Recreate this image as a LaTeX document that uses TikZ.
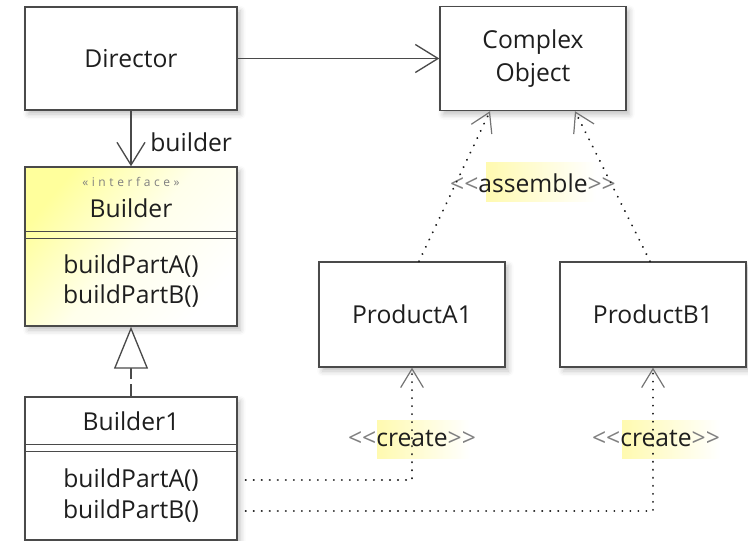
\documentclass[tikz,border=0pt]{standalone}
\usepackage{fontspec}
\setmainfont{Open Sans}[Ligatures=NoCommon]
\usepackage{graphicx}
\usetikzlibrary{arrows.meta,calc,backgrounds,shadows.blur}
\definecolor{ink}{HTML}{1E1E1E}
\definecolor{edgec}{HTML}{4A4A4A}
\definecolor{hly}{HTML}{FFFAB0}
\definecolor{ylw}{HTML}{FFFF9C}
\newcommand{\lt}{\textcolor{black!50}{<\kern0pt<}}
\newcommand{\gt}{\textcolor{black!50}{>\kern0pt>}}
\begin{document}
\begin{tikzpicture}[x=0.75pt,y=-0.75pt,
  font=\fontsize{18.5}{24}\selectfont, text=ink,
  box/.style={draw=edgec, line width=1.1pt, fill=white, rectangle, inner sep=0pt,
    blur shadow={shadow xshift=2.5pt, shadow yshift=-3pt, shadow opacity=25, shadow blur radius=4pt}},
  txt/.style={inner sep=0pt, align=center},
  assoc/.style={draw=edgec, line width=1.1pt, -{Straight Barb[length=17pt,width=21pt,line width=1pt]}},
  dep/.style={draw=black!90, line width=1.6pt, line cap=round, dash pattern=on 0.01pt off 6pt,
    -{Straight Barb[length=14pt,width=17pt,line width=0.9pt,color=black!55]}},
  real/.style={draw=edgec, line width=1.1pt, dash pattern=on 9pt off 4pt,
    -{Triangle[open,length=31.5pt,width=25.5pt,line width=1pt,fill=white]}},
  sep/.style={draw=edgec, line width=1.1pt},
  stereo/.style={inner sep=0pt, text=black!50, font=\fontsize{9}{10}\selectfont\addfontfeature{LetterSpace=30}},
  hl/.style={left color=hly, right color=white},
  ops/.style={inner sep=0pt, align=center, font=\fontsize{18.5}{22.5}\selectfont},
]
\useasboundingbox (0,0) rectangle (748,541);

% boxes
\node[box, minimum width=159pt, minimum height=77.25pt] (dir) at (131,58.5) {Director};
\node[box, minimum width=139.5pt, minimum height=78pt, align=center,
  font=\fontsize{18.5}{24.75}\selectfont] (co) at (533,58.5) {Complex\\Object};
\node[box, minimum width=139.5pt, minimum height=78.75pt] (pa1) at (412,314.5) {ProductA1};
\node[box, minimum width=139.5pt, minimum height=78.75pt] (pb1) at (653,314.5) {ProductB1};

% Builder interface
\node[box, minimum width=159pt, minimum height=119.25pt,
  top color=ylw, bottom color=white, middle color=ylw!20, shading angle=50] (b) at (131,246.5) {};
\node[stereo] (bst) at ($(b.north)+(0,16)$) {«interface»};
\node[txt] (bname) at ($(b.north)+(0,42)$) {Builder};
\draw[sep] ($(b.north west)+(0,65)$) -- ($(b.north east)+(0,65)$);
\draw[sep] ($(b.north west)+(0,72)$) -- ($(b.north east)+(0,72)$);
\node[ops] (bops) at ($(b.north)+(0,115)$) {buildPartA()\\buildPartB()};

% Builder1
\node[box, minimum width=159pt, minimum height=107.25pt] (b1) at (131,468.5) {};
\node[txt] (b1name) at ($(b1.north)+(0,25)$) {Builder1};
\draw[sep] ($(b1.north west)+(0,48)$) -- ($(b1.north east)+(0,48)$);
\draw[sep] ($(b1.north west)+(0,55)$) -- ($(b1.north east)+(0,55)$);
\node[txt] (opA) at ($(b1.north)+(0,84)$) {buildPartA()};
\node[txt] (opB) at ($(b1.north)+(0,115)$) {buildPartB()};

% labels
\node[txt, anchor=west] (lbuilder) at ($(dir.south)+(19,32)$) {builder};
\node[txt] (lasm) at ($(co.south)+(0,72)$) {\lt assemble\gt};
\node[txt] (lcA) at ($(pa1.south)+(0,71)$) {\lt create\gt};
\node[txt] (lcB) at ($(pb1.south)+(3,71)$) {\lt create\gt};

\begin{scope}[on background layer]
  \fill[hl] ($(lasm.center)+(-47,-21)$) rectangle ($(lasm.center)+(63,18)$);
  \fill[hl] ($(lcA.center)+(-35,-18)$) rectangle ($(lcA.center)+(58,20)$);
  \fill[hl] ($(lcB.center)+(-34,-18)$) rectangle ($(lcB.center)+(64,20)$);
\end{scope}

% connectors
\draw[assoc] (dir) -- (co);
\draw[assoc] (dir) -- (b);
\draw[real] (b1) -- (b);
\draw[dep] ($(pa1.north)+(7,0)$) -- ($(co.south)+(-43,0)$);
\draw[dep] ($(pb1.north)+(-3,0)$) -- ($(co.south)+(42,0)$);
\coordinate (sA) at ($(b1.east |- opA)+(8,0)$);
\coordinate (sB) at ($(b1.east |- opB)+(8,0)$);
\draw[dep] (sA) -| (pa1.south);
\draw[dep] (sB) -| (pb1.south);
\end{tikzpicture}
\end{document}
